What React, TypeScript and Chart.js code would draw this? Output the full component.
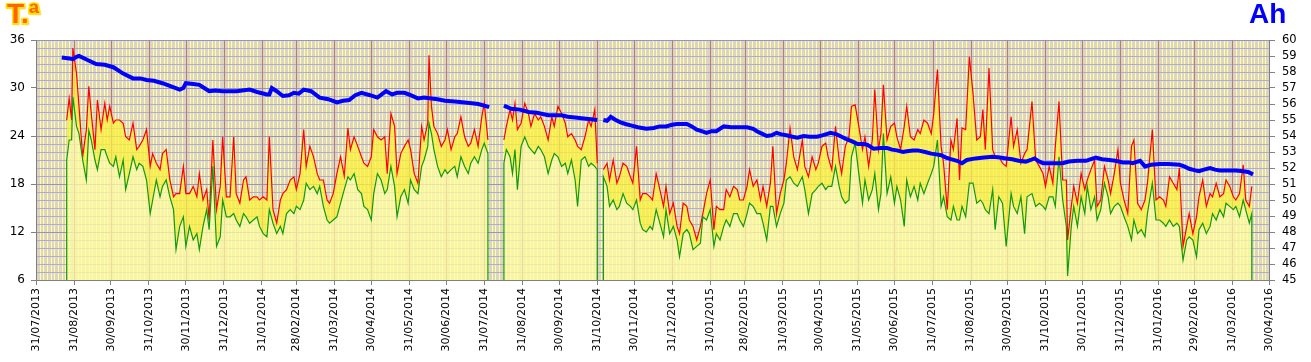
import React, { useEffect, useRef } from 'react';
import { Chart, registerables } from 'chart.js';

Chart.register(...registerables);

// ---- axis tick labels ----
const monthEndLabels = [
  '31/07/2013', '31/08/2013', '30/09/2013', '31/10/2013', '30/11/2013', '31/12/2013',
  '31/01/2014', '28/02/2014', '31/03/2014', '30/04/2014', '31/05/2014', '30/06/2014',
  '31/07/2014', '31/08/2014', '30/09/2014', '31/10/2014', '30/11/2014', '31/12/2014',
  '31/01/2015', '28/02/2015', '31/03/2015', '30/04/2015', '31/05/2015', '30/06/2015',
  '31/07/2015', '31/08/2015', '30/09/2015', '31/10/2015', '30/11/2015', '31/12/2015',
  '31/01/2016', '29/02/2016', '31/03/2016', '30/04/2016',
];
const tempTicks = [6, 12, 18, 24, 30, 36];
const ahTicks = [45, 46, 47, 48, 49, 50, 51, 52, 53, 54, 55, 56, 57, 58, 59, 60];

// ---- data: days counted from 31/07/2013 ----
// Period 1 (Aug 2013 - Aug 2014)
const p1Days = [25, 27, 29, 30, 33, 35, 38, 41, 43, 45,
  48, 50, 53, 56, 58, 60, 63, 65, 68, 71,
  73, 76, 79, 82, 84, 87, 90, 93, 95, 98,
  101, 103, 106, 109, 112, 114, 117, 120, 122, 125,
  128, 131, 133, 136, 139, 141, 144, 147, 150, 152,
  155, 158, 161, 163, 166, 169, 171, 174, 177, 180,
  182, 185, 188, 190, 193, 196, 199, 201, 204, 207,
  210, 212, 215, 218, 220, 223, 226, 229, 231, 234,
  237, 239, 242, 245, 248, 251, 254, 256, 259, 262,
  265, 267, 270, 273, 275, 278, 281, 284, 286, 289,
  292, 294, 297, 300, 303, 305, 308, 311, 314, 316,
  319, 320, 322, 324, 327, 330, 333, 335, 338, 341,
  343, 346, 349, 352, 354, 357, 360, 363, 365, 368];
const p1Max = [26.0, 28.7, 26.0, 35.0, 31.8, 27.7, 21.4, 24.8, 30.2, 26.8,
  22.3, 28.5, 24.8, 28.1, 26.0, 27.7, 25.6, 26.0, 26.0, 25.6,
  23.9, 23.5, 25.6, 22.3, 22.7, 23.5, 24.8, 20.2, 21.8, 20.6,
  19.8, 21.8, 22.3, 18.5, 16.4, 16.8, 16.8, 20.2, 16.8, 16.8,
  17.7, 16.4, 19.3, 16.0, 17.3, 13.5, 23.5, 14.8, 17.7, 23.9,
  16.4, 16.4, 23.9, 16.8, 15.6, 18.5, 18.9, 16.0, 16.4, 16.4,
  16.0, 16.4, 16.0, 23.9, 14.8, 13.1, 16.0, 16.8, 17.3, 18.5,
  18.9, 17.3, 19.3, 24.8, 20.2, 22.7, 21.4, 19.3, 18.5, 18.5,
  16.0, 15.6, 16.8, 19.3, 21.4, 19.0, 25.0, 22.3, 23.9, 22.7,
  21.4, 20.6, 20.2, 21.4, 24.8, 23.9, 23.5, 23.9, 19.3, 26.8,
  25.2, 19.3, 21.8, 22.7, 23.5, 22.3, 19.3, 18.1, 25.2, 23.5,
  25.6, 34.1, 27.7, 25.2, 24.3, 22.7, 23.5, 24.8, 22.3, 23.9,
  24.3, 26.4, 23.9, 22.7, 23.1, 24.8, 22.7, 26.4, 28.1, 23.5];
const p1Min = [21.0, 23.5, 23.5, 28.9, 25.2, 24.3, 21.0, 18.5, 24.7, 23.5,
  21.0, 19.8, 22.3, 22.3, 21.4, 20.6, 20.2, 21.4, 18.9, 21.0,
  17.3, 19.3, 21.4, 19.8, 20.6, 20.2, 18.5, 14.3, 16.0, 18.5,
  16.4, 17.7, 18.5, 16.4, 14.8, 9.8, 12.7, 13.9, 10.2, 12.7,
  11.0, 11.8, 9.8, 12.7, 14.8, 12.3, 20.2, 10.2, 11.4, 16.0,
  13.9, 13.9, 14.3, 13.5, 12.7, 14.3, 13.9, 13.1, 13.5, 13.9,
  12.7, 11.8, 11.4, 14.8, 13.1, 11.8, 12.7, 11.8, 14.3, 14.8,
  14.3, 15.2, 14.8, 16.0, 18.1, 17.3, 17.7, 16.8, 17.7, 15.2,
  13.5, 13.1, 13.5, 13.9, 15.6, 17.3, 18.9, 18.5, 19.3, 17.3,
  16.8, 15.2, 14.8, 13.5, 16.8, 19.3, 18.5, 16.8, 17.3, 20.2,
  17.7, 13.9, 16.4, 17.3, 15.6, 18.5, 17.3, 16.8, 20.2, 21.0,
  22.7, 25.6, 24.3, 22.3, 20.2, 18.9, 19.8, 19.3, 19.8, 20.2,
  18.9, 21.4, 20.2, 19.3, 20.6, 21.4, 20.6, 22.3, 23.1, 21.8];

// Period 2 (Aug - Oct 2014)
const p2Days = [381, 383, 386, 388, 390, 392, 395, 398, 401, 403,
  406, 409, 411, 414, 417, 420, 422, 425, 428, 431,
  433, 436, 439, 441, 444, 447, 450, 452, 455, 457];
const p2Max = [23.5, 25.2, 27.3, 26.0, 28.1, 24.8, 25.6, 28.1, 26.8, 25.2,
  26.8, 26.0, 26.4, 25.2, 23.5, 26.4, 25.2, 27.7, 26.8, 25.6,
  23.9, 24.3, 23.5, 22.7, 22.3, 23.9, 26.0, 25.2, 27.3, 20.6];
const p2Min = [20.6, 22.3, 21.4, 19.3, 22.3, 17.3, 22.7, 23.9, 22.7, 22.3,
  21.8, 22.7, 22.3, 21.4, 19.3, 21.0, 21.8, 21.4, 20.2, 20.6,
  19.3, 21.0, 18.5, 15.2, 21.0, 21.4, 20.2, 20.6, 20.2, 19.8];

// Period 3 (Nov 2014 - Apr 2016)
const p3Days = [462, 465, 467, 470, 473, 475, 478, 481, 484, 486,
  489, 492, 494, 497, 500, 502, 505, 508, 511, 513,
  516, 519, 522, 524, 527, 530, 532, 535, 538, 541,
  543, 546, 549, 552, 554, 557, 560, 562, 565, 568,
  571, 573, 576, 579, 581, 584, 587, 590, 592, 595,
  598, 600, 603, 606, 609, 611, 614, 617, 620, 624,
  626, 629, 632, 635, 637, 640, 643, 645, 648, 651,
  654, 656, 659, 662, 664, 667, 670, 673, 675, 678,
  681, 683, 686, 688, 690, 693, 696, 699, 701, 704,
  707, 709, 712, 715, 718, 720, 723, 726, 729, 731,
  734, 737, 739, 742, 745, 747, 750, 752, 754, 757,
  760, 763, 766, 769, 771, 773, 776, 779, 781, 784,
  787, 790, 794, 796, 799, 802, 805, 807, 811, 814,
  817, 820, 822, 825, 828, 830, 833, 836, 839, 840,
  843, 845, 848, 851, 854, 856, 859, 862, 864, 867,
  870, 873, 875, 878, 881, 883, 886, 889, 892, 894,
  897, 900, 903, 905, 909, 912, 915, 918, 920, 923,
  926, 929, 931, 934, 937, 939, 942, 945, 947, 950,
  953, 956, 958, 961, 964, 967, 969, 972, 975, 977,
  980, 983, 985, 988, 990];
const p3Max = [19.8, 20.6, 18.5, 21.0, 18.1, 18.9, 20.6, 20.2, 18.9, 18.1,
  22.7, 16.0, 16.8, 16.8, 16.4, 16.0, 19.3, 17.3, 15.2, 17.7,
  14.3, 15.6, 12.7, 11.8, 15.6, 15.2, 13.5, 12.7, 11.0, 12.7,
  14.3, 16.8, 18.5, 12.3, 15.2, 14.8, 14.8, 17.3, 16.4, 17.7,
  17.3, 16.0, 16.0, 17.7, 19.8, 17.7, 18.5, 16.0, 17.7, 15.2,
  18.1, 22.7, 14.3, 16.8, 18.5, 20.6, 25.0, 21.4, 19.8, 23.5,
  20.2, 18.9, 21.4, 19.8, 20.6, 22.7, 23.1, 21.4, 19.8, 25.2,
  21.0, 19.3, 22.7, 23.9, 27.7, 27.9, 25.2, 22.3, 23.9, 20.2,
  23.5, 29.8, 22.3, 24.3, 30.4, 23.5, 25.2, 25.6, 23.9, 22.3,
  25.2, 27.7, 23.9, 23.5, 24.8, 24.3, 26.0, 25.6, 24.3, 26.8,
  32.3, 22.7, 20.6, 14.8, 23.5, 22.3, 26.2, 18.5, 25.0, 24.8,
  33.9, 29.3, 23.5, 23.9, 27.3, 22.3, 32.5, 22.3, 21.4, 21.4,
  20.6, 20.2, 26.4, 22.7, 24.8, 20.6, 21.8, 22.3, 28.3, 21.0,
  20.2, 19.3, 17.7, 20.2, 18.1, 22.7, 28.3, 18.5, 18.5, 11.0,
  15.2, 17.7, 15.6, 19.3, 17.3, 18.5, 19.8, 21.0, 15.2, 16.0,
  20.2, 18.5, 16.8, 19.3, 22.3, 18.1, 16.0, 14.3, 22.7, 23.5,
  15.6, 14.8, 16.0, 18.1, 24.8, 16.0, 16.4, 16.0, 15.2, 18.9,
  18.1, 17.3, 20.0, 10.2, 12.7, 14.3, 11.8, 13.9, 16.4, 18.5,
  15.2, 16.8, 16.4, 18.1, 16.4, 16.8, 18.5, 17.7, 16.4, 16.0,
  16.8, 20.4, 16.0, 15.2, 17.7];
const p3Min = [18.9, 17.7, 15.2, 16.0, 14.8, 15.2, 16.8, 15.6, 15.2, 14.8,
  16.0, 13.1, 12.3, 12.0, 12.7, 12.3, 14.8, 13.1, 11.4, 14.8,
  11.8, 12.7, 11.0, 8.9, 11.8, 12.3, 11.8, 9.8, 10.2, 10.6,
  13.9, 13.5, 14.8, 10.2, 11.8, 11.0, 12.7, 13.5, 12.7, 14.3,
  14.3, 13.5, 12.7, 14.3, 15.6, 15.2, 14.3, 14.3, 13.1, 11.0,
  15.2, 15.2, 12.7, 14.3, 15.6, 18.5, 18.9, 18.1, 17.7, 18.9,
  17.3, 14.3, 16.8, 17.3, 17.7, 18.1, 17.3, 17.7, 17.7, 20.2,
  17.7, 16.4, 15.6, 16.0, 21.4, 23.1, 19.3, 15.6, 18.5, 16.0,
  17.3, 19.3, 14.8, 16.8, 24.3, 16.8, 18.9, 15.6, 17.7, 16.0,
  12.7, 18.5, 16.4, 17.7, 16.0, 18.1, 16.8, 18.1, 19.3, 20.2,
  23.5, 15.2, 16.4, 13.9, 13.5, 15.2, 13.5, 13.5, 15.2, 13.9,
  18.1, 18.1, 15.6, 16.0, 15.6, 14.8, 14.3, 17.3, 12.3, 16.4,
  15.6, 10.2, 16.8, 15.2, 14.3, 16.4, 11.8, 16.4, 16.8, 15.2,
  15.6, 15.2, 14.8, 16.4, 16.4, 15.2, 21.4, 16.0, 12.7, 6.5,
  12.7, 15.2, 12.7, 16.4, 14.3, 17.7, 14.8, 16.4, 13.5, 14.8,
  18.1, 16.4, 14.3, 15.2, 15.6, 15.2, 13.9, 12.7, 11.0, 13.5,
  11.8, 12.3, 11.4, 14.3, 18.1, 13.5, 13.5, 13.1, 12.7, 13.5,
  12.7, 13.1, 12.7, 8.5, 11.0, 11.4, 11.0, 8.9, 12.3, 13.1,
  11.8, 12.7, 14.3, 13.5, 14.8, 13.9, 15.6, 15.2, 14.8, 15.2,
  13.9, 16.0, 14.8, 13.1, 14.3];

// Ah series
const ah1Days = [21, 27, 30, 33, 35, 42, 49, 56, 63, 71,
  79, 85, 90, 96, 103, 110, 117, 120, 122, 128,
  133, 137, 141, 146, 152, 158, 163, 168, 174, 180,
  188, 190, 192, 196, 201, 206, 210, 214, 218, 224,
  231, 238, 245, 250, 255, 260, 265, 272, 278, 285,
  290, 294, 300, 305, 311, 316, 322, 327, 333, 341,
  349, 355, 360, 365, 369];
const ah1 = [58.9, 58.85, 58.8, 58.95, 59.0, 58.75, 58.5, 58.45, 58.3, 57.9,
  57.6, 57.6, 57.5, 57.45, 57.3, 57.1, 56.9, 57.0, 57.3, 57.25,
  57.2, 57.0, 56.8, 56.85, 56.8, 56.8, 56.8, 56.85, 56.9, 56.75,
  56.6, 56.6, 57.0, 56.8, 56.5, 56.55, 56.7, 56.65, 56.9, 56.8,
  56.4, 56.3, 56.1, 56.2, 56.25, 56.55, 56.7, 56.55, 56.4, 56.8,
  56.6, 56.7, 56.7, 56.55, 56.35, 56.4, 56.35, 56.3, 56.2, 56.15,
  56.1, 56.05, 56.0, 55.9, 55.8];
const ah2Days = [381, 387, 394, 401, 408, 417, 424, 428, 433, 439, 446, 452, 457];
const ah2 = [55.9, 55.7, 55.65, 55.5, 55.45, 55.3, 55.3, 55.3, 55.2, 55.15, 55.1, 55.05, 55.0];
const ah3Days = [462, 465, 468, 472, 476, 480, 485, 490, 497, 503,
  508, 513, 518, 522, 527, 530, 534, 538, 542, 546,
  550, 554, 560, 566, 572, 579, 584, 587, 591, 595,
  599, 603, 607, 611, 616, 620, 625, 630, 636, 641,
  647, 652, 656, 660, 665, 669, 674, 677, 682, 688,
  693, 697, 701, 706, 709, 714, 718, 724, 729, 733,
  737, 741, 745, 750, 754, 758, 765, 772, 779, 785,
  790, 795, 800, 806, 810, 813, 817, 820, 825, 830,
  836, 841, 848, 855, 859, 863, 868, 874, 879, 885,
  890, 893, 899, 903, 908, 915, 922, 931, 935, 939,
  944, 947, 951, 956, 960, 964, 970, 977, 983, 987,
  991];
const ah3 = [55.0, 54.95, 55.2, 55.0, 54.85, 54.75, 54.65, 54.55, 54.45, 54.5,
  54.6, 54.6, 54.7, 54.75, 54.75, 54.75, 54.6, 54.4, 54.3, 54.2,
  54.3, 54.3, 54.6, 54.55, 54.55, 54.55, 54.45, 54.3, 54.15, 54.0,
  54.05, 54.2, 54.1, 54.05, 53.95, 53.9, 54.0, 53.95, 53.95, 54.05,
  54.2, 54.1, 53.95, 53.8, 53.65, 53.5, 53.5, 53.45, 53.2, 53.25,
  53.25, 53.15, 53.1, 53.0, 53.05, 53.1, 53.1, 53.0, 52.9, 52.85,
  52.8, 52.65, 52.55, 52.45, 52.3, 52.5, 52.6, 52.65, 52.7, 52.65,
  52.6, 52.55, 52.45, 52.4, 52.5, 52.6, 52.4, 52.3, 52.3, 52.3,
  52.3, 52.4, 52.45, 52.45, 52.55, 52.65, 52.55, 52.5, 52.45, 52.35,
  52.35, 52.3, 52.45, 52.1, 52.2, 52.25, 52.25, 52.2, 52.1, 51.95,
  51.85, 51.8, 51.9, 52.0, 51.9, 51.85, 51.85, 51.85, 51.8, 51.75,
  51.6];

const BASE = Date.UTC(2013, 6, 31);
function toDay(label: string): number {
  const [d, m, y] = label.split('/').map(Number);
  return Math.round((Date.UTC(y, m - 1, d) - BASE) / 86400000);
}

type Pt = { x: number; y: number | null };

function buildTemp() {
  const periods = [
    { days: p1Days, max: p1Max, min: p1Min },
    { days: p2Days, max: p2Max, min: p2Min },
    { days: p3Days, max: p3Max, min: p3Min },
  ];
  const floor = tempTicks[0];
  const maxPts: Pt[] = [];
  const minPts: Pt[] = [];
  periods.forEach((p, k) => {
    const n = Math.min(p.days.length, p.max.length, p.min.length);
    if (k > 0) {
      const prev = periods[k - 1].days;
      const gx = (prev[prev.length - 1] + p.days[0]) / 2;
      maxPts.push({ x: gx, y: null });
      minPts.push({ x: gx, y: null });
    }
    minPts.push({ x: p.days[0], y: floor });
    for (let i = 0; i < n; i++) {
      maxPts.push({ x: p.days[i], y: p.max[i] });
      minPts.push({ x: p.days[i], y: p.min[i] });
    }
    minPts.push({ x: p.days[n - 1], y: floor });
  });
  return { maxPts, minPts };
}

function buildAh() {
  const periods = [
    { days: ah1Days, v: ah1 },
    { days: ah2Days, v: ah2 },
    { days: ah3Days, v: ah3 },
  ];
  const pts: Pt[] = [];
  periods.forEach((p, k) => {
    if (k > 0) {
      const prev = periods[k - 1].days;
      pts.push({ x: (prev[prev.length - 1] + p.days[0]) / 2, y: null });
    }
    const n = Math.min(p.days.length, p.v.length);
    for (let i = 0; i < n; i++) pts.push({ x: p.days[i], y: p.v[i] });
  });
  return pts;
}

export default function App() {
  const ref = useRef<HTMLCanvasElement>(null);

  useEffect(() => {
    if (!ref.current) return;
    const monthDays = monthEndLabels.map(toDay);
    const labelByDay = new Map<number, string>();
    monthDays.forEach((d, i) => labelByDay.set(d, monthEndLabels[i]));
    const { maxPts, minPts } = buildTemp();
    const ahPts = buildAh();
    const tMin = tempTicks[0];
    const tMax = tempTicks[tempTicks.length - 1];

    const gridPlugin = {
      id: 'bgGrid',
      beforeDraw(chart: any) {
        const { ctx, chartArea: a, scales } = chart;
        const xs = scales.x;
        const ys = scales.y;
        ctx.save();
        ctx.fillStyle = '#DDD5C0';
        ctx.fillRect(a.left, a.top, a.right - a.left, a.bottom - a.top);
        ctx.lineWidth = 1;
        // minor vertical (every 3 days inside each month)
        ctx.strokeStyle = '#FFFFA8';
        ctx.beginPath();
        for (let i = 0; i < monthDays.length - 1; i++) {
          for (let d = monthDays[i] + 3; d < monthDays[i + 1] - 1; d += 3) {
            const px = Math.round(xs.getPixelForValue(d)) + 0.5;
            ctx.moveTo(px, a.top);
            ctx.lineTo(px, a.bottom);
          }
        }
        ctx.stroke();
        // horizontal every degree
        for (let v = tMin; v <= tMax; v++) {
          const py = Math.round(ys.getPixelForValue(v)) + 0.5;
          ctx.strokeStyle = v % 6 === 0 ? '#9494CC' : '#ACACDA';
          ctx.beginPath();
          ctx.moveTo(a.left, py);
          ctx.lineTo(a.right, py);
          ctx.stroke();
        }
        // month lines
        ctx.strokeStyle = '#B67E6E';
        ctx.beginPath();
        for (let i = 1; i < monthDays.length - 1; i++) {
          const px = Math.round(xs.getPixelForValue(monthDays[i])) + 0.5;
          ctx.moveTo(px, a.top);
          ctx.lineTo(px, a.bottom);
        }
        ctx.stroke();
        ctx.restore();
      },
    };

    const font = '"DejaVu Sans", Verdana, sans-serif';
    const chart = new Chart(ref.current, {
      type: 'line',
      data: {
        datasets: [
          {
            label: 'Ah',
            data: ahPts as any,
            yAxisID: 'y1',
            borderColor: '#0000FF',
            borderWidth: 4,
            pointRadius: 0,
            fill: false,
            tension: 0,
            order: 0,
          },
          {
            label: 'Máx',
            data: maxPts as any,
            yAxisID: 'y',
            borderColor: '#FF0000',
            borderWidth: 1.2,
            pointRadius: 0,
            tension: 0,
            fill: '+1',
            backgroundColor: 'rgba(253,243,57,0.75)',
            order: 2,
          },
          {
            label: 'Mín',
            data: minPts as any,
            yAxisID: 'y',
            borderColor: '#119911',
            borderWidth: 1.2,
            pointRadius: 0,
            tension: 0,
            fill: 'start',
            backgroundColor: 'rgba(255,253,161,0.75)',
            order: 1,
          },
        ],
      },
      options: {
        animation: false,
        responsive: false,
        devicePixelRatio: 1,
        layout: { padding: { top: 40, left: 0, right: 0, bottom: 0 } },
        plugins: { legend: { display: false }, tooltip: { enabled: false } },
        scales: {
          x: {
            type: 'linear',
            min: monthDays[0],
            max: monthDays[monthDays.length - 1],
            afterBuildTicks: (s: any) => {
              s.ticks = monthDays.map((v) => ({ value: v }));
            },
            afterFit: (s: any) => {
              s.height = 82;
            },
            ticks: {
              autoSkip: false,
              minRotation: 90,
              maxRotation: 90,
              padding: 3,
              color: '#000',
              font: { family: font, size: 11 },
              callback: (v: any) => labelByDay.get(Number(v)) ?? '',
            },
            grid: { drawOnChartArea: false, drawTicks: true, tickLength: 5, color: '#808080' },
            border: { display: true, color: '#808080' },
          },
          y: {
            type: 'linear',
            position: 'left',
            min: tMin,
            max: tMax,
            afterFit: (s: any) => {
              s.width = 36;
            },
            ticks: {
              stepSize: 6,
              autoSkip: false,
              maxTicksLimit: 100,
              padding: 6,
              color: '#000',
              font: { family: font, size: 12 },
            },
            grid: { drawOnChartArea: false, drawTicks: true, tickLength: 5, color: '#808080' },
            border: { display: true, color: '#808080' },
          },
          y1: {
            type: 'linear',
            position: 'right',
            min: ahTicks[0],
            max: ahTicks[ahTicks.length - 1],
            afterFit: (s: any) => {
              s.width = 42;
            },
            ticks: {
              stepSize: 1,
              autoSkip: false,
              maxTicksLimit: 100,
              padding: 7,
              color: '#000',
              font: { family: font, size: 11.5 },
            },
            grid: { drawOnChartArea: false, drawTicks: true, tickLength: 6, color: '#808080' },
            border: { display: true, color: '#808080' },
          },
        },
      },
      plugins: [gridPlugin],
    });
    return () => chart.destroy();
  }, []);

  const titleFont = 'bold 28px "Liberation Sans", Arial, sans-serif';
  const y = '#FFE400';
  return (
    <div style={{ position: 'absolute', left: 0, top: 0, width: 1311, height: 362, background: '#fff', overflow: 'hidden' }}>
      <canvas ref={ref} width={1311} height={362} style={{ position: 'absolute', left: 0, top: 0, width: 1311, height: 362, display: 'block' }} />
      <div
        style={{
          position: 'absolute', left: 7, top: 0, font: titleFont, lineHeight: '28px', color: '#FF6400', whiteSpace: 'nowrap',
          textShadow: `-1.5px -1.5px 0 ${y}, 1.5px -1.5px 0 ${y}, -1.5px 1.5px 0 ${y}, 1.5px 1.5px 0 ${y}, 0 1.5px 0 ${y}, 0 -1.5px 0 ${y}, 1.5px 0 0 ${y}, -1.5px 0 0 ${y}, 2px 2px 2px rgba(0,0,0,0.25)`,
        }}
      >
        T.ª
      </div>
      <div style={{ position: 'absolute', left: 1249, top: 0, font: titleFont, lineHeight: '28px', color: '#0000FF', whiteSpace: 'nowrap' }}>
        Ah
      </div>
    </div>
  );
}
